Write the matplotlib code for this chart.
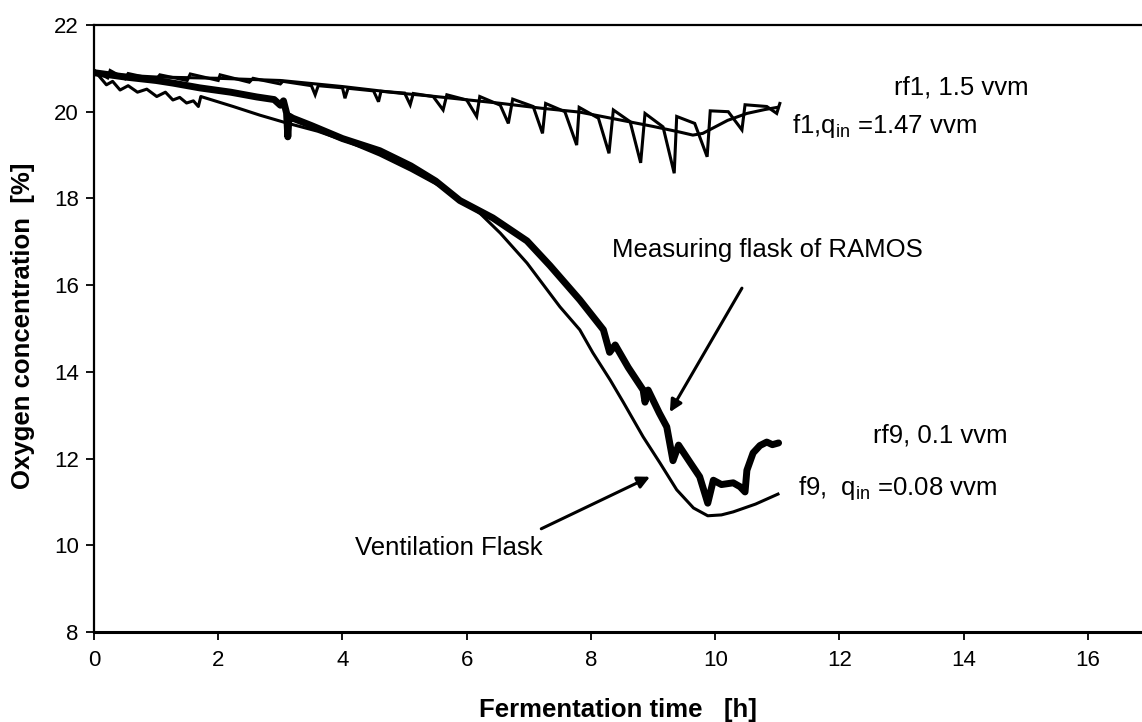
import matplotlib
matplotlib.use("Agg")
import matplotlib.pyplot as plt

plt.rcParams['font.family'] = ['Liberation Sans', 'DejaVu Sans']
plt.rcParams['mathtext.fontset'] = 'custom'
plt.rcParams['mathtext.rm'] = 'Liberation Sans'
plt.rcParams['mathtext.it'] = 'Liberation Sans'

# ---- data ----
# rf1: measuring flask of RAMOS, 1.5 vvm (sawtooth)
rf1_x = [0, 0.22, 0.26, 0.5, 0.55, 1.0, 1.06, 1.5, 1.55, 2.0, 2.03, 2.5, 2.56, 3.0, 3.04,
         3.5, 3.56, 3.61, 4.0, 4.04, 4.09, 4.5, 4.58, 4.62, 5.0, 5.09, 5.14, 5.46, 5.62, 5.68,
         6.0, 6.16, 6.21, 6.54, 6.67, 6.74, 7.07, 7.22, 7.27, 7.58, 7.77, 7.81, 8.12, 8.29,
         8.36, 8.63, 8.8, 8.87, 9.16, 9.34, 9.38, 9.67, 9.87, 9.92, 10.21, 10.43, 10.48,
         10.83, 10.99, 11.04]
rf1_y = [20.95, 20.78, 20.95, 20.76, 20.88, 20.74, 20.85, 20.72, 20.87, 20.72, 20.85, 20.68,
         20.77, 20.64, 20.7, 20.6, 20.39, 20.6, 20.55, 20.31, 20.54, 20.48, 20.23, 20.47,
         20.43, 20.16, 20.42, 20.35, 20.04, 20.39, 20.27, 19.89, 20.35, 20.15, 19.73, 20.29,
         20.12, 19.5, 20.19, 20.0, 19.23, 20.1, 19.85, 19.04, 20.04, 19.77, 18.82, 19.96,
         19.65, 18.58, 19.89, 19.73, 18.96, 20.02, 20.0, 19.58, 20.16, 20.12, 19.96, 20.19]

# f1: ventilation flask, q_in = 1.47 vvm (smooth)
f1_x = [0, 1, 2, 3, 4, 4.9, 5.5, 6.5, 7.2, 7.82, 8.5, 9.0, 9.43, 9.64, 9.8, 9.96, 10.2,
        10.51, 10.8, 11.0]
f1_y = [20.88, 20.8, 20.77, 20.72, 20.58, 20.43, 20.35, 20.2, 20.08, 19.99, 19.8, 19.66,
        19.53, 19.46, 19.5, 19.62, 19.8, 19.96, 20.05, 20.1]

# rf9: measuring flask of RAMOS, 0.1 vvm (thick, noisy)
rf9_x = [0, 0.5, 1.0, 1.27, 1.7, 2.2, 2.62, 2.9, 3.0, 3.05, 3.1, 3.12, 3.14, 3.2, 3.5, 4.0,
         4.6, 5.1, 5.5, 5.89, 6.42, 6.97, 7.34, 7.82, 8.2, 8.3, 8.39, 8.6, 8.84, 8.87, 8.92,
         9.1, 9.22, 9.32, 9.41, 9.6, 9.75, 9.88, 9.97, 10.1, 10.29, 10.4, 10.48, 10.51,
         10.61, 10.72, 10.83, 10.92, 11.02]
rf9_y = [20.9, 20.8, 20.72, 20.66, 20.55, 20.45, 20.34, 20.28, 20.15, 20.25, 19.97, 19.42,
         19.9, 19.85, 19.68, 19.38, 19.1, 18.75, 18.4, 17.95, 17.55, 17.02, 16.45, 15.66,
         14.97, 14.45, 14.62, 14.1, 13.58, 13.3, 13.58, 13.05, 12.73, 11.95, 12.31, 11.9,
         11.58, 10.97, 11.5, 11.4, 11.44, 11.35, 11.23, 11.73, 12.13, 12.3, 12.38, 12.32,
         12.36]

# f9: ventilation flask, q_in = 0.08 vvm (smooth)
f9_x = [0, 0.2, 0.3, 0.42, 0.55, 0.7, 0.85, 1.01, 1.15, 1.27, 1.38, 1.49, 1.6, 1.68, 1.72,
        2.24, 2.67, 3.1, 3.6, 4.1, 4.6, 5.1, 5.68, 6.21, 6.54, 6.97, 7.5, 7.82, 8.03, 8.31,
        8.52, 8.84, 9.11, 9.38, 9.65, 9.88, 10.1, 10.29, 10.65, 11.01]
f9_y = [20.96, 20.62, 20.7, 20.5, 20.6, 20.45, 20.52, 20.35, 20.45, 20.27, 20.33, 20.2,
        20.25, 20.12, 20.35, 20.12, 19.92, 19.74, 19.55, 19.3, 19.0, 18.65, 18.2, 17.66,
        17.2, 16.51, 15.5, 14.97, 14.44, 13.81, 13.3, 12.5, 11.9, 11.28, 10.86, 10.68,
        10.7, 10.77, 10.95, 11.18]

x_ticks = [0, 2, 4, 6, 8, 10, 12, 14, 16]
y_ticks = [8, 10, 12, 14, 16, 18, 20, 22]

# ---- figure ----
fig = plt.figure(figsize=(11.42, 7.22), dpi=100)
ax = fig.add_axes([0.0823, 0.1247, 0.9177, 0.8407])

ax.plot(f1_x, f1_y, color='black', lw=2.2, solid_joinstyle='round')
ax.plot(rf1_x, rf1_y, color='black', lw=2.2, solid_joinstyle='miter')
ax.plot(f9_x, f9_y, color='black', lw=2.2, solid_joinstyle='round')
ax.plot(rf9_x, rf9_y, color='black', lw=5.0, solid_joinstyle='round', solid_capstyle='round')

ax.set_xlim(0, 16.87)
ax.set_ylim(8, 22)
ax.set_xticks(x_ticks)
ax.set_yticks(y_ticks)
ax.tick_params(axis='both', direction='out', length=6, width=1.3, labelsize=16,
               colors='black')
ax.tick_params(axis='x', pad=7)
ax.tick_params(axis='y', pad=5)

for s in ['left', 'top']:
    ax.spines[s].set_linewidth(1.6)
ax.spines['bottom'].set_linewidth(2.2)
ax.spines['right'].set_visible(False)

ax.set_xlabel('Fermentation time   [h]', fontsize=18.5, fontweight='bold')
ax.xaxis.set_label_coords(0.5, -0.108)
ax.set_ylabel('Oxygen concentration  [%]', fontsize=18.5, fontweight='bold')
ax.yaxis.set_label_coords(-0.056, 0.505)

fs = 18.5
ax.text(13.96, 20.55, 'rf1, 1.5 vvm', fontsize=fs, ha='center', va='center')
ax.text(11.24, 19.67, r'f1,q$_\mathregular{in}$ =1.47 vvm', fontsize=fs, ha='left', va='center')
ax.text(8.34, 16.81, 'Measuring flask of RAMOS', fontsize=fs, ha='left', va='center')
ax.text(12.54, 12.54, 'rf9, 0.1 vvm', fontsize=fs, ha='left', va='center')
ax.text(11.33, 11.33, r'f9,  q$_\mathregular{in}$ =0.08 vvm', fontsize=fs, ha='left', va='center')
ax.text(4.2, 9.94, 'Ventilation Flask', fontsize=fs, ha='left', va='center')

arrow = dict(arrowstyle='-|>', color='black', lw=2.2, mutation_scale=18, shrinkA=0, shrinkB=0)
ax.annotate('', xy=(9.27, 13.07), xytext=(10.43, 15.93), arrowprops=arrow)
ax.annotate('', xy=(8.95, 11.58), xytext=(7.2, 10.38), arrowprops=arrow)

fig.savefig('out.png', dpi=100)
